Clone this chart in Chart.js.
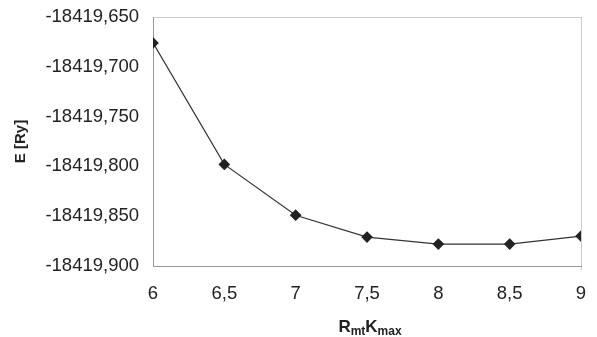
<!DOCTYPE html>
<html lang="en">
  <head>
    <meta charset="UTF-8" />
    <title>E vs RmtKmax</title>
    <script src="https://cdn.jsdelivr.net/npm/chart.js"></script>
    <style>
      html, body { margin: 0; padding: 0; background: #fff; }
    </style>
  </head>
  <body>
    <canvas id="energyChart" width="597" height="337"></canvas>
    <script>
      // R_mt*K_max values and total energy (Ry)
      const rkmax = [6, 6.5, 7, 7.5, 8, 8.5, 9];
      const energy = [-18419.676, -18419.798, -18419.849, -18419.871, -18419.878, -18419.878, -18419.870];
      const xTicks = [6, 6.5, 7, 7.5, 8, 8.5, 9];
      const yTicks = [-18419.9, -18419.85, -18419.8, -18419.75, -18419.7, -18419.65];

      const font = "'Liberation Sans', Arial, sans-serif";
      const comma = (v, d) => v.toFixed(d).replace('.', ',');

      // x title with subscripts: R_mt K_max
      const xTitlePlugin = {
        id: 'xTitle',
        afterDraw(chart) {
          const c = chart.ctx;
          const parts = [['R', false], ['mt', true], ['K', false], ['max', true]];
          c.save();
          c.fillStyle = '#222';
          c.textBaseline = 'alphabetic';
          let w = 0;
          parts.forEach(([t, sub]) => {
            c.font = 'bold ' + (sub ? 12 : 17) + 'px ' + font;
            w += c.measureText(t).width;
          });
          let x = 370 - w / 2;
          parts.forEach(([t, sub]) => {
            c.font = 'bold ' + (sub ? 12 : 17) + 'px ' + font;
            c.fillText(t, x, sub ? 335 : 332);
            x += c.measureText(t).width;
          });
          c.restore();
        }
      };

      new Chart(document.getElementById('energyChart'), {
        type: 'line',
        data: {
          datasets: [{
            data: rkmax.map((x, i) => ({ x: x, y: energy[i] })),
            borderColor: '#333',
            borderWidth: 1.2,
            pointStyle: 'rectRot',
            pointRadius: 5,
            pointBackgroundColor: '#222',
            pointBorderColor: '#222',
            tension: 0
          }]
        },
        options: {
          responsive: false,
          animation: false,
          maintainAspectRatio: false,
          layout: { padding: { top: 17, right: 16, left: 12, bottom: 0 } },
          plugins: { legend: { display: false }, tooltip: { enabled: false } },
          scales: {
            x: {
              type: 'linear',
              min: 6,
              max: 9,
              afterBuildTicks: s => { s.ticks = xTicks.map(v => ({ value: v })); },
              afterFit: s => { s.height = 71; s.paddingRight = 0; s.paddingLeft = 0; },
              ticks: {
                padding: 13,
                autoSkip: false,
                maxRotation: 0,
                color: '#222',
                font: { family: font, size: 18.5 },
                callback: v => comma(v, v % 1 ? 1 : 0)
              },
              grid: {
                drawOnChartArea: true,
                drawTicks: true,
                tickLength: 4,
                color: ctx => ctx.index === xTicks.length - 1 ? '#ccc' : 'transparent'
              },
              border: { color: '#999', width: 1 }
            },
            y: {
              min: -18419.9,
              max: -18419.65,
              afterBuildTicks: s => { s.ticks = yTicks.map(v => ({ value: v })); },
              afterFit: s => { s.width = 141; s.paddingTop = 0; s.paddingBottom = 0; },
              ticks: {
                padding: 14,
                autoSkip: false,
                color: '#222',
                font: { family: font, size: 18.5 },
                callback: v => comma(v, 3)
              },
              grid: {
                drawTicks: false,
                color: ctx => ctx.index === yTicks.length - 1 ? '#ccc' : 'transparent'
              },
              border: { color: '#999', width: 1 },
              title: {
                display: true,
                text: 'E [Ry]',
                color: '#222',
                font: { family: font, size: 15, weight: 'bold' },
                padding: { top: 0, bottom: 0 }
              }
            }
          }
        },
        plugins: [xTitlePlugin]
      });
    </script>
  </body>
</html>
